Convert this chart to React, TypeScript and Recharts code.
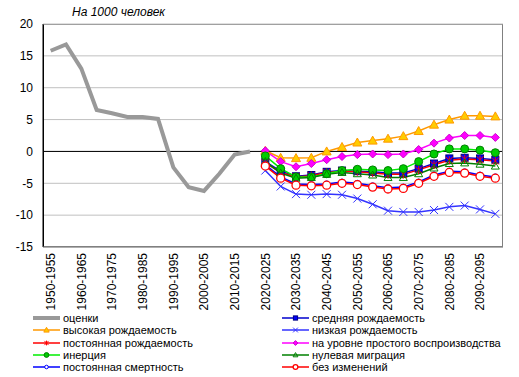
import React from 'react';
import {
  LineChart,
  Line,
  XAxis,
  YAxis,
  CartesianGrid,
  ReferenceLine,
} from 'recharts';

const periods = [
  '1950-1955', '1955-1960', '1960-1965', '1965-1970', '1970-1975', '1975-1980',
  '1980-1985', '1985-1990', '1990-1995', '1995-2000', '2000-2005', '2005-2010',
  '2010-2015', '2015-2020', '2020-2025', '2025-2030', '2030-2035', '2035-2040',
  '2040-2045', '2045-2050', '2050-2055', '2055-2060', '2060-2065', '2065-2070',
  '2070-2075', '2075-2080', '2080-2085', '2085-2090', '2090-2095', '2095-2100',
];

// 1950-1955 .. 2015-2020
const estimates = [15.8, 16.8, 13.0, 6.5, 6.0, 5.4, 5.4, 5.1, -2.5, -5.6, -6.2, -3.5, -0.5, 0.0];

// 2020-2025 .. 2095-2100
const medium = [-1.6, -3.1, -3.9, -3.7, -3.2, -3.0, -3.1, -3.2, -3.4, -3.4, -2.7, -1.9, -1.1, -1.0, -1.1, -1.3];
const high = [0.1, -1.0, -1.05, -1.0, 0.0, 0.7, 1.4, 1.7, 2.0, 2.4, 3.2, 4.2, 5.0, 5.6, 5.6, 5.5];
const low = [-3.0, -5.5, -6.7, -6.8, -6.7, -6.8, -7.4, -8.3, -9.3, -9.5, -9.5, -9.2, -8.7, -8.5, -9.1, -9.8];
const constFertility = [-1.8, -3.3, -4.0, -3.8, -3.3, -3.1, -3.2, -3.4, -3.6, -3.6, -2.9, -2.1, -1.4, -1.2, -1.3, -1.5];
const replacement = [0.1, -1.6, -2.4, -1.9, -1.3, -0.8, -0.5, -0.4, -0.5, -0.4, 0.3, 1.3, 2.1, 2.5, 2.5, 2.2];
const inertia = [-0.7, -2.7, -4.0, -4.0, -3.5, -3.0, -2.8, -2.9, -3.0, -2.7, -1.6, -0.4, 0.4, 0.4, 0.2, -0.2];
const zeroMigration = [-1.6, -3.4, -4.2, -4.1, -3.6, -3.3, -3.5, -3.7, -4.1, -4.1, -3.5, -2.6, -1.9, -1.8, -2.0, -2.3];
const constMortality = [-2.1, -4.0, -5.1, -5.2, -5.1, -4.8, -5.0, -5.4, -5.7, -5.6, -4.8, -3.7, -3.1, -3.2, -3.7, -4.0];
const noChange = [-2.3, -4.2, -5.3, -5.4, -5.3, -5.0, -5.2, -5.6, -5.9, -5.8, -5.0, -3.9, -3.3, -3.4, -3.9, -4.2];

const yTicks = [-15, -10, -5, 0, 5, 10, 15, 20];

const projStart = estimates.length;

const data = periods.map((p, i) => {
  const j = i - projStart;
  const proj = (arr: number[]) => (j >= 0 ? arr[j] : null);
  return {
    period: p,
    estimates: i < projStart ? estimates[i] : null,
    medium: proj(medium),
    high: proj(high),
    low: proj(low),
    constFertility: proj(constFertility),
    replacement: proj(replacement),
    inertia: proj(inertia),
    zeroMigration: proj(zeroMigration),
    constMortality: proj(constMortality),
    noChange: proj(noChange),
  };
});

type MarkerKind =
  | 'none' | 'square' | 'triangle' | 'cross' | 'star' | 'diamond'
  | 'circleFill' | 'triangleHollow' | 'circleSmall' | 'circleHollow';

function Marker({ kind, x, y, color, fill, scale = 1 }: {
  kind: MarkerKind; x: number; y: number; color: string; fill: string; scale?: number;
}) {
  const s = scale;
  switch (kind) {
    case 'square':
      return <rect x={x - 3.5 * s} y={y - 3.5 * s} width={7 * s} height={7 * s} fill={fill} stroke={color} strokeWidth={1} />;
    case 'triangle':
      return <polygon points={`${x},${y - 4.5 * s} ${x + 4.5 * s},${y + 3.5 * s} ${x - 4.5 * s},${y + 3.5 * s}`} fill={fill} stroke={color} strokeWidth={1} />;
    case 'triangleHollow':
      return <polygon points={`${x},${y - 4 * s} ${x + 4 * s},${y + 3 * s} ${x - 4 * s},${y + 3 * s}`} fill="none" stroke={color} strokeWidth={1} />;
    case 'cross':
      return (
        <g stroke={color} strokeWidth={1}>
          <line x1={x - 4 * s} y1={y - 4 * s} x2={x + 4 * s} y2={y + 4 * s} />
          <line x1={x - 4 * s} y1={y + 4 * s} x2={x + 4 * s} y2={y - 4 * s} />
        </g>
      );
    case 'star':
      return (
        <g stroke={color} strokeWidth={1}>
          <line x1={x - 3.5 * s} y1={y - 3.5 * s} x2={x + 3.5 * s} y2={y + 3.5 * s} />
          <line x1={x - 3.5 * s} y1={y + 3.5 * s} x2={x + 3.5 * s} y2={y - 3.5 * s} />
          <line x1={x} y1={y - 4 * s} x2={x} y2={y + 4 * s} />
        </g>
      );
    case 'diamond':
      return <polygon points={`${x},${y - 4 * s} ${x + 4 * s},${y} ${x},${y + 4 * s} ${x - 4 * s},${y}`} fill={fill} stroke={color} strokeWidth={1} />;
    case 'circleFill':
      return <circle cx={x} cy={y} r={4 * s} fill={fill} stroke={color} strokeWidth={1} />;
    case 'circleSmall':
      return <circle cx={x} cy={y} r={3 * s} fill="#fff" stroke={color} strokeWidth={1} />;
    case 'circleHollow':
      return <circle cx={x} cy={y} r={4 * s} fill="#fff" stroke={color} strokeWidth={1.3} />;
    default:
      return null;
  }
}

interface SeriesDef {
  key: string;
  name: string;
  color: string;
  markerColor: string;
  fill: string;
  kind: MarkerKind;
  width: number;
}

// drawing order (later on top), also legend order read row by row
const series: SeriesDef[] = [
  { key: 'estimates', name: 'оценки', color: '#999999', markerColor: '#999999', fill: '#999999', kind: 'none', width: 4 },
  { key: 'medium', name: 'средняя рождаемость', color: '#0000cc', markerColor: '#000080', fill: '#0000ff', kind: 'square', width: 1.5 },
  { key: 'high', name: 'высокая рождаемость', color: '#ff9900', markerColor: '#ff9900', fill: '#ffcc00', kind: 'triangle', width: 1.5 },
  { key: 'low', name: 'низкая рождаемость', color: '#3333ff', markerColor: '#3333ff', fill: '#3333ff', kind: 'cross', width: 1.5 },
  { key: 'constFertility', name: 'постоянная рождаемость', color: '#ff0000', markerColor: '#ff0000', fill: '#ff0000', kind: 'star', width: 1.5 },
  { key: 'replacement', name: 'на уровне простого воспроизводства', color: '#ff00ff', markerColor: '#cc00cc', fill: '#ff00ff', kind: 'diamond', width: 1.5 },
  { key: 'inertia', name: 'инерция', color: '#00ee00', markerColor: '#008000', fill: '#00cc00', kind: 'circleFill', width: 1.5 },
  { key: 'zeroMigration', name: 'нулевая миграция', color: '#008000', markerColor: '#008000', fill: 'none', kind: 'triangleHollow', width: 1.5 },
  { key: 'constMortality', name: 'постоянная смертность', color: '#0000ff', markerColor: '#0000ff', fill: '#fff', kind: 'circleSmall', width: 1.5 },
  { key: 'noChange', name: 'без изменений', color: '#ff0000', markerColor: '#ff0000', fill: '#fff', kind: 'circleHollow', width: 1.5 },
];

const legendCols = [
  ['estimates', 'high', 'constFertility', 'inertia', 'constMortality'],
  ['medium', 'low', 'replacement', 'zeroMigration', 'noChange'],
];

const FONT = '"Liberation Sans", Arial, sans-serif';

// plot box = margins + axis sizes below
const M = { top: 24, right: 16, left: 0, bottom: 70 };
const Y_W = 43;
const X_H = 60;
const W = 519;
const H = 377;

const XTick = (props: any) => {
  const { x, y, payload } = props;
  const yy = y + 4;
  return (
    <text
      x={x}
      y={yy}
      transform={`rotate(-90, ${x}, ${yy})`}
      textAnchor="end"
      dy="0.35em"
      fontSize={12}
      fill="#000"
      fontFamily={FONT}
    >
      {payload.value}
    </text>
  );
};

function LegendIcon({ s }: { s: SeriesDef }) {
  return (
    <svg width={28} height={10} style={{ display: 'block' }}>
      <line x1={0} y1={5} x2={27} y2={5} stroke={s.color} strokeWidth={s.key === 'estimates' ? 4 : 1.5} />
      <Marker kind={s.kind} x={13.5} y={5} color={s.markerColor} fill={s.fill} scale={0.6} />
    </svg>
  );
}

export default function App() {
  const boxLeft = M.left + Y_W;
  const boxTop = M.top;
  const boxW = W - M.right - boxLeft;
  const boxH = H - M.bottom - X_H - boxTop;
  return (
    <div style={{ position: 'absolute', left: 0, top: 0, width: W, height: H, background: '#fff', fontFamily: FONT }}>
      <div style={{ position: 'absolute', left: 72, top: 5, fontSize: 12, fontStyle: 'italic', color: '#000' }}>
        На 1000 человек
      </div>
      <LineChart width={W} height={H} data={data} margin={M}>
        <CartesianGrid vertical={false} stroke="#c0c0c0" />
        <XAxis
          dataKey="period"
          scale="band"
          interval={1}
          tick={<XTick />}
          tickLine={false}
          tickSize={0}
          axisLine={{ stroke: '#808080', strokeWidth: 1 }}
          height={X_H}
        />
        <YAxis
          domain={[-15, 20]}
          ticks={yTicks}
          interval={0}
          width={Y_W}
          tickLine={false}
          tickSize={0}
          tickMargin={10}
          axisLine={{ stroke: '#000', strokeWidth: 1 }}
          tick={{ fontSize: 12, fill: '#000', fontFamily: FONT }}
        />
        <ReferenceLine y={0} stroke="#000" strokeWidth={1} />
        {series.map((s) => (
          <Line
            key={s.key}
            dataKey={s.key}
            name={s.name}
            stroke={s.color}
            strokeWidth={s.width}
            isAnimationActive={false}
            connectNulls={false}
            dot={
              s.kind === 'none'
                ? false
                : (p: any) =>
                    p.value == null || p.cy == null ? (
                      <g key={p.key ?? p.index} />
                    ) : (
                      <g key={p.key ?? p.index}>
                        <Marker kind={s.kind} x={p.cx} y={p.cy} color={s.markerColor} fill={s.fill} />
                      </g>
                    )
            }
            activeDot={false}
          />
        ))}
      </LineChart>
      {/* plot frame */}
      <div
        style={{
          position: 'absolute',
          left: boxLeft,
          top: boxTop,
          width: boxW,
          height: boxH,
          boxSizing: 'border-box',
          borderTop: '1px solid #a0a0a0',
          borderRight: '1px solid #808080',
          borderBottom: '1px solid #808080',
          borderLeft: '1px solid #000',
          pointerEvents: 'none',
        }}
      />
      {legendCols.map((col, ci) => (
        <div key={ci} style={{ position: 'absolute', left: ci === 0 ? 33 : 282, top: 312 }}>
          {col.map((k) => {
            const s = series.find((x) => x.key === k)!;
            return (
              <div key={k} style={{ display: 'flex', alignItems: 'center', height: 12.3, fontSize: 11, color: '#000', whiteSpace: 'nowrap' }}>
                <LegendIcon s={s} />
                <span style={{ marginLeft: 2 }}>{s.name}</span>
              </div>
            );
          })}
        </div>
      ))}
    </div>
  );
}
